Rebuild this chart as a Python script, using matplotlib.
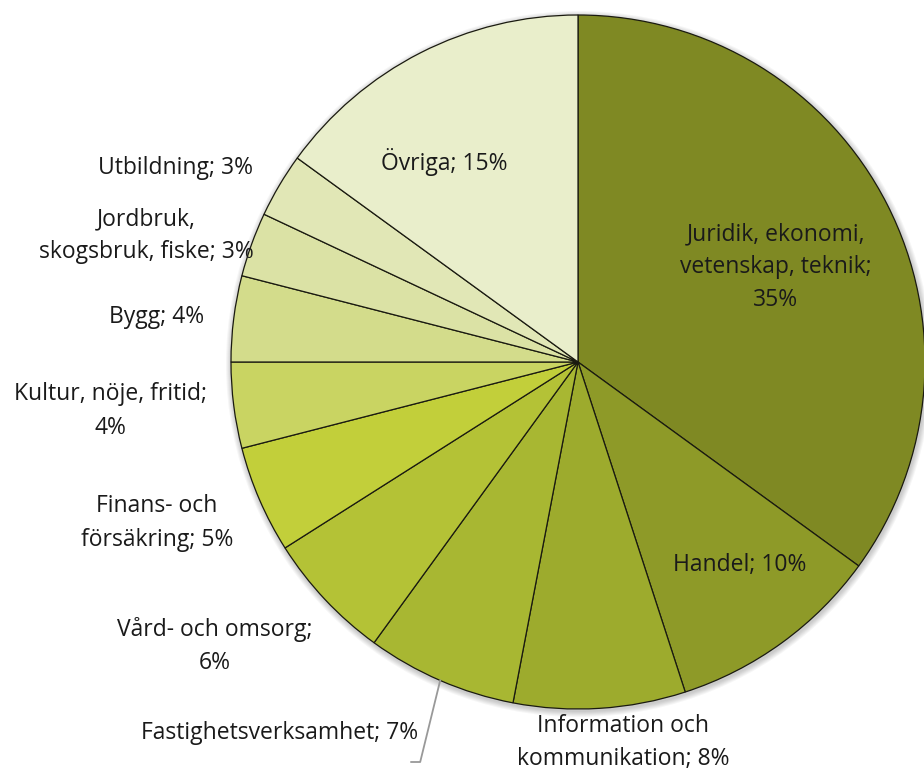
import numpy as np
import matplotlib.pyplot as plt
from matplotlib.patches import Circle

plt.rcParams['font.family'] = ['Open Sans', 'DejaVu Sans']

labels = ['Juridik, ekonomi,\nvetenskap, teknik;\n35%', 'Handel; 10%',
          'Information och\nkommunikation; 8%', 'Fastighetsverksamhet; 7%',
          'Vård- och omsorg;\n6%', 'Finans- och\nförsäkring; 5%',
          'Kultur, nöje, fritid;\n4%', 'Bygg; 4%',
          'Jordbruk,\nskogsbruk, fiske; 3%', 'Utbildning; 3%', 'Övriga; 15%']
shares = [35, 10, 8, 7, 6, 5, 4, 4, 3, 3, 15]
colors = ['#7f8923', '#8e9a28', '#9dab2d', '#a8b732', '#b4c236', '#c2cf3a',
          '#c9d462', '#d3dc8b', '#dbe2a5', '#e1e7b6', '#e9eecb']

# label anchor points in pixel coords (x, y from top)
label_pos = [(776, 267), (740, 565), (623, 742), (418, 733), (215, 646),
             (157, 523), (110, 411), (157, 317), (146, 236), (176, 168),
             (444, 162)]
label_ha = ['center', 'center', 'center', 'right', 'center', 'center',
            'center', 'center', 'center', 'center', 'center']

W, H = 924, 772
cx, cy, R = 578, H - 362, 347

fig = plt.figure(figsize=(W / 100, H / 100), dpi=100)
ax = fig.add_axes([0, 0, 1, 1])
ax.set_xlim(0, W)
ax.set_ylim(0, H)
ax.set_aspect('equal')
ax.axis('off')

# soft shadow
for k in range(6, 0, -1):
    ax.add_patch(Circle((cx + 1, cy - 2), R + k, color='#000000',
                        alpha=0.035, lw=0, zorder=0))

wedges, _ = ax.pie(shares, colors=colors, startangle=90, counterclock=False,
                   center=(cx, cy), radius=R, frame=True,
                   wedgeprops=dict(edgecolor='#1a1a10', linewidth=0.9))
ax.set_xlim(0, W)
ax.set_ylim(0, H)
ax.axis('off')

for lab, (x, y), ha in zip(labels, label_pos, label_ha):
    ax.text(x, H - y, lab, ha=ha, va='center', fontsize=16.5,
            color='#1a1a1a', linespacing=1.5, zorder=5)

# leader line for Fastighetsverksamhet
w = wedges[3]
mid = np.deg2rad((w.theta1 + w.theta2) / 2)
px, py = cx + R * np.cos(mid), cy + R * np.sin(mid)
ax.plot([px, px - 20, px - 29], [py, H - 762, H - 762], color='#999999',
        lw=1.3, zorder=4)

fig.savefig('out.png', dpi=100)
